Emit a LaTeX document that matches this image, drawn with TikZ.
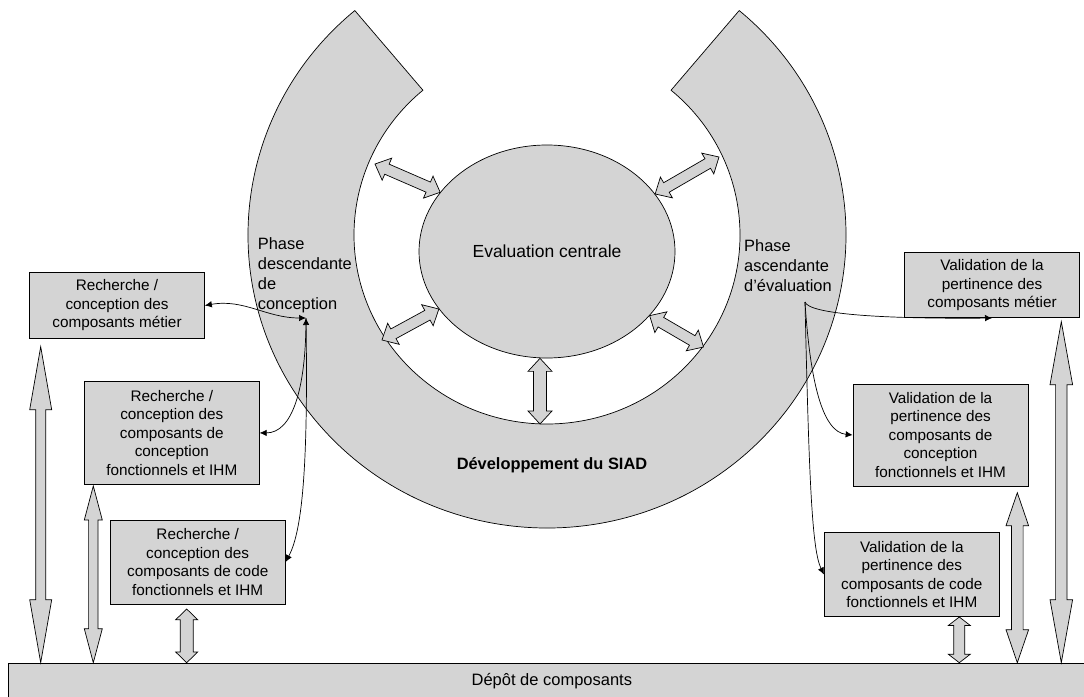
\documentclass[tikz,border=0pt]{standalone}
\usepackage{fontspec}
\setmainfont{Liberation Sans}
\usetikzlibrary{arrows.meta, calc, shapes.geometric}
\definecolor{SiadGray}{HTML}{D4D4D4}
\definecolor{SiadBlack}{HTML}{000000}
\tikzset{
    % Boxes with sharp corners
    component/.style={
        rectangle,
        draw=SiadBlack,
        fill=SiadGray,
        line width=0.7pt,
        minimum width=175pt,
        inner sep=2pt,
        align=center,
        font=\fontsize{15.3}{18.5}\selectfont
    },
    phase text/.style={
        anchor=north west,
        inner sep=0pt,
        align=left,
        font=\fontsize{16.4}{20}\selectfont
    },
    ring style/.style={
        draw=SiadBlack,
        fill=SiadGray,
        line width=0.7pt
    },
    block arrow/.style={
        draw=SiadBlack,
        fill=SiadGray,
        line width=0.7pt,
        line join=miter
    },
    arrow style/.style={
        -{Latex[length=7pt,width=6.5pt]},
        line width=0.7pt,
        SiadBlack
    },
    biarrow style/.style={
        {Latex[length=7pt,width=6.5pt]}-{Latex[length=7pt,width=6.5pt]},
        line width=0.7pt,
        SiadBlack
    }
}
% double block arrow: start, end, shaft half width, head half width, head length
\newcommand{\blockarrow}[5]{%
    \draw[block arrow] let \p1=(#1), \p2=(#2), \n1={atan2(\y2-\y1,\x2-\x1)} in
        (\p1) -- ($(\p1)+(\n1:#5)+(\n1+90:#4)$) -- ($(\p1)+(\n1:#5)+(\n1+90:#3)$)
        -- ($(\p2)+(\n1:-#5)+(\n1+90:#3)$) -- ($(\p2)+(\n1:-#5)+(\n1+90:#4)$)
        -- (\p2) -- ($(\p2)+(\n1:-#5)+(\n1-90:#4)$) -- ($(\p2)+(\n1:-#5)+(\n1-90:#3)$)
        -- ($(\p1)+(\n1:#5)+(\n1-90:#3)$) -- ($(\p1)+(\n1:#5)+(\n1-90:#4)$) -- cycle;
}

\begin{document}
\begin{tikzpicture}[x=1pt, y=1pt]
        \useasboundingbox (0,0) rectangle (1084,-696);

        % Ring
        \coordinate (ringc) at (547,-235);
        \draw[ring style] ($(ringc)+(130:299pt and 293pt)$)
            arc[start angle=130, end angle=410, x radius=299pt, y radius=293pt]
            -- ($(ringc)+(50:193pt and 189pt)$)
            arc[start angle=50, end angle=-230, x radius=193pt, y radius=189pt] -- cycle;

        % Centre
        \node[ellipse, draw=SiadBlack, fill=SiadGray, line width=0.7pt, minimum width=256pt, minimum height=213pt,
            font=\fontsize{17.5}{20}\selectfont] (eval) at (547,-251.5) {Evaluation centrale};

        \node[phase text] (phdesc) at (257.7,-237) {Phase\\descendante\\de\\conception};
        \node[phase text] (phasc) at (744,-239) {Phase\\ascendante\\d’évaluation};
        \node[font=\bfseries\fontsize{16.4}{20}\selectfont] (dev) at (552,-465) {Développement du SIAD};

        % Arrows round the centre
        \coordinate (ul) at (375,-164);
        \coordinate (ur) at (719,-157);
        \coordinate (ll) at (382,-340);
        \coordinate (lr) at (703.5,-347);
        \coordinate (bt) at (540,-424);
        \blockarrow{ul}{eval.151}{5.5pt}{12pt}{13pt}
        \blockarrow{eval.28}{ur}{5.5pt}{12pt}{13pt}
        \blockarrow{ll}{eval.208}{5.5pt}{12pt}{13pt}
        \blockarrow{eval.328}{lr}{5.5pt}{12pt}{13pt}
        \blockarrow{bt |- eval.south}{bt}{6.5pt}{12pt}{13pt}

        % Left boxes
        \node[component, minimum height=65.6pt] (l1) at (117,-305.5) {Recherche /\\conception des\\composants métier};
        \node[component, minimum height=102.3pt] (l2) at (171.8,-432.9) {Recherche /\\conception des\\composants de\\conception\\fonctionnels et IHM};
        \node[component, minimum height=84pt] (l3) at (197.7,-562) {Recherche /\\conception des\\composants de code\\fonctionnels et IHM};

        % Right boxes
        \node[component, minimum height=65pt] (r1) at (992,-285.2) {Validation de la\\pertinence des\\composants métier};
        \node[component, minimum height=102pt] (r2) at (940.5,-435) {Validation de la\\pertinence des\\composants de\\conception\\fonctionnels et IHM};
        \node[component, minimum height=84.4pt] (r3) at (911.8,-574.5) {Validation de la\\pertinence des\\composants de code\\fonctionnels et IHM};

        % Repository
        \node[component, anchor=north west, minimum width=1087pt, minimum height=36pt, font=\fontsize{16.5}{20}\selectfont] (depot) at (8,-662.7) {Dépôt de composants};

        % Vertical arrows to the repository
        \coordinate (a1top) at (40.7,-346.7);
        \coordinate (a2top) at (93.3,-486);
        \coordinate (a3top) at (186.7,-609);
        \coordinate (b1top) at (1061.3,-321.7);
        \coordinate (b2top) at (1017.3,-492.7);
        \coordinate (b3top) at (959.3,-617);
        \blockarrow{a1top}{a1top |- depot.north}{5pt}{11pt}{63pt}
        \blockarrow{a2top}{a2top |- depot.north}{4.7pt}{9pt}{34pt}
        \blockarrow{a3top}{a3top |- depot.north}{6.5pt}{11pt}{10.7pt}
        \blockarrow{b1top}{b1top |- depot.north}{5.7pt}{11.3pt}{63pt}
        \blockarrow{b2top}{b2top |- depot.north}{5.8pt}{11.3pt}{33pt}
        \blockarrow{b3top}{b3top |- depot.north}{5.5pt}{11pt}{8.5pt}

        % Links of the phases
        \coordinate (pl) at (306,-318);
        \coordinate (pr) at (805,-302);
        \draw[biarrow style] (l1.east) to[out=10, in=180] (pl);
        \draw[arrow style] (pl) .. controls (306,-390) and (292,-433) .. (l2.east);
        \draw[biarrow style] (pl) .. controls (308,-460) and (303,-530) .. (l3.east);
        \draw[arrow style] (pr) .. controls (809,-314) and (880,-319) .. (r1.south);
        \draw[arrow style] (pr) .. controls (810,-380) and (822,-432) .. (r2.west);
        \draw[arrow style] (pr) .. controls (809,-480) and (812,-550) .. (r3.west);
\end{tikzpicture}
\end{document}
